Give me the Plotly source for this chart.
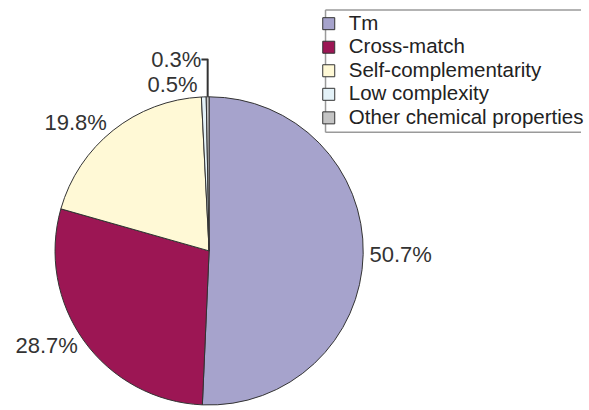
import plotly.graph_objects as go

categories = ["Tm", "Cross-match", "Self-complementarity", "Low complexity", "Other chemical properties"]
values = [50.7, 28.7, 19.8, 0.5, 0.3]
text_labels = ["50.7%", "28.7%", "19.8%", "0.5%", "0.3%"]
colors = ["#a6a3cc", "#9c1654", "#fff9d6", "#e4f2f8", "#c4c4c4"]

W, H = 589, 410

legend_labels = ['<span style="font-size:20.5px">%s</span>' % c for c in categories]

fig = go.Figure(go.Pie(
    labels=legend_labels,
    values=values,
    text=text_labels,
    textinfo="text",
    textposition="outside",
    sort=False,
    direction="clockwise",
    rotation=0,
    marker=dict(colors=colors, line=dict(color="#333333", width=1)),
    textfont=dict(family="Liberation Sans, Arial, sans-serif", size=22, color="#333333"),
    domain=dict(x=[54 / W, 370 / W], y=[0, 312 / H]),
    hoverinfo="percent",
))

# legend frame: top, left and bottom edges (right edge lies outside the picture)
box_left, box_top, box_bottom = 330 / W, 1 - 10 / H, 1 - 134 / H
frame = [
    dict(type="line", xref="paper", yref="paper", x0=box_left, x1=1.0, y0=box_top, y1=box_top),
    dict(type="line", xref="paper", yref="paper", x0=box_left, x1=1.0, y0=box_bottom, y1=box_bottom),
    dict(type="line", xref="paper", yref="paper", x0=box_left, x1=box_left, y0=box_bottom, y1=box_top),
]
for s in frame:
    s["line"] = dict(color="#9a9a9a", width=1.5)
    s["layer"] = "below"

fig.update_layout(
    width=W, height=H,
    margin=dict(l=0, r=0, t=0, b=0),
    paper_bgcolor="white",
    plot_bgcolor="white",
    showlegend=True,
    legend=dict(
        x=313 / W, y=1 - 7 / H, xanchor="left", yanchor="top",
        bgcolor="rgba(0,0,0,0)",
        bordercolor="rgba(0,0,0,0)",
        borderwidth=0,
        font=dict(family="Liberation Sans, Arial, sans-serif", size=15.8, color="#222222"),
        tracegroupgap=0,
    ),
    shapes=frame,
)

fig.write_html(
    "out.html",
    config={"displayModeBar": False},
    post_script="document.body.style.margin='0';document.body.style.overflow='hidden';",
)
